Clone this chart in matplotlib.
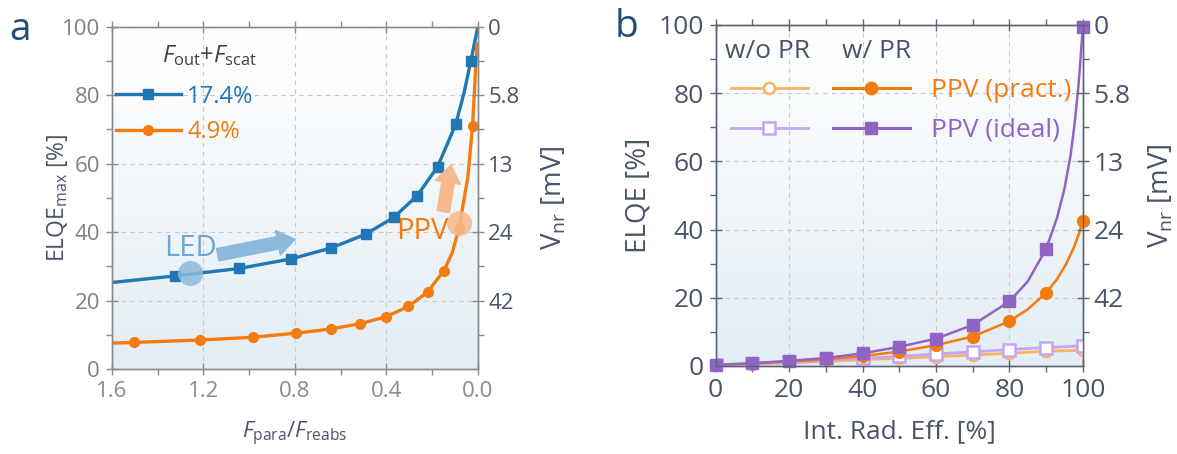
import numpy as np
import matplotlib
matplotlib.use('Agg')
import matplotlib.pyplot as plt
from matplotlib.lines import Line2D
from matplotlib.colors import LinearSegmentedColormap
from matplotlib.ticker import MultipleLocator, FixedLocator

plt.rcParams['font.family'] = ['Open Sans', 'DejaVu Sans']
plt.rcParams['mathtext.fontset'] = 'custom'
plt.rcParams['mathtext.rm'] = 'Open Sans'
plt.rcParams['mathtext.it'] = 'Open Sans:italic'

# ---- panel a : ELQE_max vs F_para/F_reabs ----
blue_x = [1.326, 1.043, 0.816, 0.641, 0.491, 0.368, 0.266, 0.176, 0.097, 0.031]
blue_y = [27.2, 29.4, 32.2, 35.4, 39.4, 44.3, 50.6, 59.1, 71.5, 90.0]
blue_extra_x = [1.6, 0.061, 0.0]          # extra points along the line
blue_extra_y = [25.3, 80.5, 100.0]

orange_x = [1.501, 1.214, 0.984, 0.795, 0.644, 0.513, 0.401, 0.304, 0.220, 0.148, 0.082, 0.023]
orange_y = [7.8, 8.5, 9.3, 10.5, 11.7, 13.3, 15.3, 18.3, 22.5, 28.8, 41.3, 71.1]
orange_extra_x = [1.6, 0.112, 0.044, 0.004]
orange_extra_y = [7.6, 34.0, 56.0, 95.0]

fout_labels = ['17.4%', '4.9%']

# ---- panel b : ELQE vs internal radiative efficiency ----
irad = [0, 10, 20, 30, 40, 50, 60, 70, 80, 90, 100]
pract_pr = [0.3, 0.7, 1.3, 1.9, 2.9, 4.2, 6.1, 8.6, 13.1, 21.4, 42.5]
ideal_pr = [0.3, 0.8, 1.5, 2.3, 3.7, 5.6, 8.0, 12.0, 18.9, 34.3, 99.5]
pract_nopr = [0.2, 0.5, 0.9, 1.3, 1.8, 2.2, 2.7, 3.2, 3.7, 4.3, 4.6]
ideal_nopr = [0.2, 0.6, 1.1, 1.6, 2.2, 2.8, 3.5, 4.1, 4.8, 5.4, 5.9]
pract_extra_x = [85, 93, 95.5, 97.5, 99]
pract_extra_y = [16.6, 25.5, 30.0, 34.6, 39.0]
ideal_extra_x = [85, 93, 95, 96.7, 97.8, 98.8, 99.4]
ideal_extra_y = [24.8, 43.5, 52.0, 62.0, 71.5, 82.0, 90.5]

# right axis: V_nr labels at the ELQE positions
vnr_pos = [100, 80, 60, 40, 20]
vnr_lab = ['0', '5.8', '13', '24', '42']

BLUE = '#2077b4'
ORANGE = '#f47b10'
PURPLE = '#9164c4'
L_ORANGE = '#ffb163'
L_PURPLE = '#c3a6f2'
SLATE = '#4a5468'
GRAY = '#8a8a8a'

bg = LinearSegmentedColormap.from_list('bg', ['#e3edf4', '#ffffff'])


def merged(x1, y1, x2, y2):
    x = np.concatenate([x1, x2])
    y = np.concatenate([y1, y2])
    o = np.argsort(x)
    return x[o], y[o]


def style_axes(ax, ax2, spine_col, lab_col_left, lab_col_x, lab_col_right, tsize, rpad):
    ax.imshow(np.linspace(0, 1, 256).reshape(-1, 1), extent=[0, 1, 0, 1],
              transform=ax.transAxes, aspect='auto', cmap=bg, origin='lower', zorder=0)
    ax.grid(True, which='major', ls=(0, (4, 4)), color='#c9c9c9', lw=0.8)
    ax.set_axisbelow(True)
    for a in (ax, ax2):
        for s in a.spines.values():
            s.set_color(spine_col)
            s.set_linewidth(1.0)
    ax.tick_params(which='major', direction='inout', length=9, width=1.0, color=spine_col,
                   top=True, labelsize=tsize, pad=4)
    ax.tick_params(which='minor', direction='out', length=4, width=1.0, color=spine_col, top=True)
    ax.tick_params(axis='y', labelcolor=lab_col_left)
    ax.tick_params(axis='x', labelcolor=lab_col_x)
    ax2.tick_params(which='major', direction='inout', length=9, width=1.0, color=spine_col,
                    labelsize=tsize, labelcolor=lab_col_right, pad=3)
    ax2.tick_params(which='minor', direction='out', length=4, width=1.0, color=spine_col)
    ax2.set_ylim(0, 100)
    ax2.yaxis.set_major_locator(FixedLocator(vnr_pos))
    ax2.set_yticklabels(vnr_lab)
    ax2.yaxis.set_minor_locator(FixedLocator([90, 70, 50, 30, 10]))
    ax2.set_ylabel('V$_{\\mathrm{nr}}$ [mV]', fontsize=20, color=SLATE, labelpad=rpad)


fig = plt.figure(figsize=(11.77, 4.54), dpi=100)
axa = fig.add_axes([0.095, 0.187, 0.311, 0.754])
axb = fig.add_axes([0.608, 0.194, 0.312, 0.751])

# ---------------- panel a ----------------
axa.set_xlim(1.6, 0.0)
axa.set_ylim(0, 100)
axa.xaxis.set_major_locator(MultipleLocator(0.4))
axa.xaxis.set_minor_locator(MultipleLocator(0.2))
axa.yaxis.set_major_locator(MultipleLocator(20))
axa.yaxis.set_minor_locator(MultipleLocator(10))
axa.set_xticklabels([f'{v:.1f}' for v in axa.get_xticks()])
axa2 = axa.twinx()
style_axes(axa, axa2, GRAY, '#808080', '#8a8a8a', SLATE, 16, 15)

bx, by = merged(blue_x, blue_y, blue_extra_x, blue_extra_y)
ox, oy = merged(orange_x, orange_y, orange_extra_x, orange_extra_y)
axa.plot(bx, by, color=BLUE, lw=2.4, zorder=3)
axa.plot(blue_x, blue_y, 's', color=BLUE, ms=7, zorder=4)
axa.plot(ox, oy, color=ORANGE, lw=2.4, zorder=3)
axa.plot(orange_x, orange_y, 'o', color=ORANGE, ms=7, zorder=4)

# LED / PPV annotations
axa.plot([1.257], [28.0], 'o', ms=18, color='#8cb9dc', alpha=0.85, mec='none', zorder=5)
axa.plot([0.082], [42.8], 'o', ms=18, color='#f6b98a', alpha=0.85, mec='none', zorder=5)
axa.annotate('', xy=(0.799, 37.9), xytext=(1.137, 33.4),
             arrowprops=dict(arrowstyle='simple,tail_width=0.5,head_width=1.0,head_length=0.7',
                             color='#8cb9dc', mutation_scale=18, shrinkA=0, shrinkB=0), zorder=5)
axa.annotate('', xy=(0.118, 59.6), xytext=(0.151, 46.0),
             arrowprops=dict(arrowstyle='simple,tail_width=0.5,head_width=1.0,head_length=0.7',
                             color='#f6b98a', mutation_scale=18, shrinkA=0, shrinkB=0), zorder=5)
axa.text(1.257, 35.3, 'LED', fontsize=21, color='#6fa5d2', ha='center', va='center', zorder=6)
axa.text(0.241, 40.2, 'PPV', fontsize=21, color=ORANGE, ha='center', va='center', zorder=6)

h_a = [Line2D([], [], color=BLUE, lw=2.4, marker='s', ms=7),
       Line2D([], [], color=ORANGE, lw=2.4, marker='o', ms=7)]
axa.legend(h_a, fout_labels, loc='upper left', bbox_to_anchor=(0.005, 0.838),
           fontsize=17, frameon=False, labelcolor='linecolor', borderpad=0.1,
           borderaxespad=0, handlelength=2.75, handletextpad=0.27, labelspacing=0.5)
axa.text(0.267, 0.915, '$F_{\\mathrm{out}}$+$F_{\\mathrm{scat}}$', transform=axa.transAxes,
         fontsize=17, color='#404040', ha='center', va='center')

axa.set_ylabel('ELQE$_{\\mathrm{max}}$ [%]', fontsize=16.5, color=SLATE, labelpad=-6)
axa.set_xlabel('$F_{\\mathrm{para}}/F_{\\mathrm{reabs}}$', fontsize=16, color=SLATE, labelpad=13)

# ---------------- panel b ----------------
axb.set_xlim(0, 100)
axb.set_ylim(0, 100)
axb.xaxis.set_major_locator(MultipleLocator(20))
axb.xaxis.set_minor_locator(MultipleLocator(10))
axb.yaxis.set_major_locator(MultipleLocator(20))
axb.yaxis.set_minor_locator(MultipleLocator(10))
axb2 = axb.twinx()
style_axes(axb, axb2, '#5b6378', SLATE, SLATE, SLATE, 19, 12)

axb.plot(irad, pract_nopr, color=L_ORANGE, lw=2.0, marker='o', ms=8, mfc='white',
         mew=1.8, zorder=3)
axb.plot(irad, ideal_nopr, color=L_PURPLE, lw=2.0, marker='s', ms=8, mfc='white',
         mew=1.8, zorder=3)
px, py = merged(irad, pract_pr, pract_extra_x, pract_extra_y)
ix, iy = merged(irad, ideal_pr, ideal_extra_x, ideal_extra_y)
axb.plot(px, py, color=ORANGE, lw=1.8, zorder=4)
axb.plot(irad, pract_pr, 'o', color=ORANGE, ms=8.5, zorder=4, clip_on=False)
axb.plot(ix, iy, color=PURPLE, lw=1.8, zorder=4)
axb.plot(irad, ideal_pr, 's', color=PURPLE, ms=8.5, zorder=4, clip_on=False)

h_b = [Line2D([], [], color=L_ORANGE, lw=2.0, marker='o', ms=8, mfc='white', mew=1.8),
       Line2D([], [], color=L_PURPLE, lw=2.0, marker='s', ms=8, mfc='white', mew=1.8),
       Line2D([], [], color=ORANGE, lw=2.2, marker='o', ms=9),
       Line2D([], [], color=PURPLE, lw=2.2, marker='s', ms=9)]
axb.legend(h_b, ['', '', 'PPV (pract.)', 'PPV (ideal)'], ncol=2, loc='upper left',
           bbox_to_anchor=(0.012, 0.876), fontsize=19, frameon=False,
           labelcolor=[ORANGE, PURPLE, ORANGE, PURPLE], borderpad=0.4, borderaxespad=0,
           handlelength=2.92, handletextpad=0.8, columnspacing=0.15, labelspacing=0.57)
axb.text(0.025, 0.921, 'w/o PR', transform=axb.transAxes, fontsize=19, color=SLATE,
         ha='left', va='center')
axb.text(0.343, 0.921, 'w/ PR', transform=axb.transAxes, fontsize=19, color=SLATE,
         ha='left', va='center')

axb.set_ylabel('ELQE [%]', fontsize=20, color=SLATE, labelpad=4)
axb.set_xlabel('Int. Rad. Eff. [%]', fontsize=19, color=SLATE, labelpad=12)

fig.text(0.008, 0.935, 'a', fontsize=28, color='#1f4e79', va='center')
fig.text(0.522, 0.94, 'b', fontsize=28, color='#1f4e79', va='center')

fig.savefig('out.png', dpi=100)
